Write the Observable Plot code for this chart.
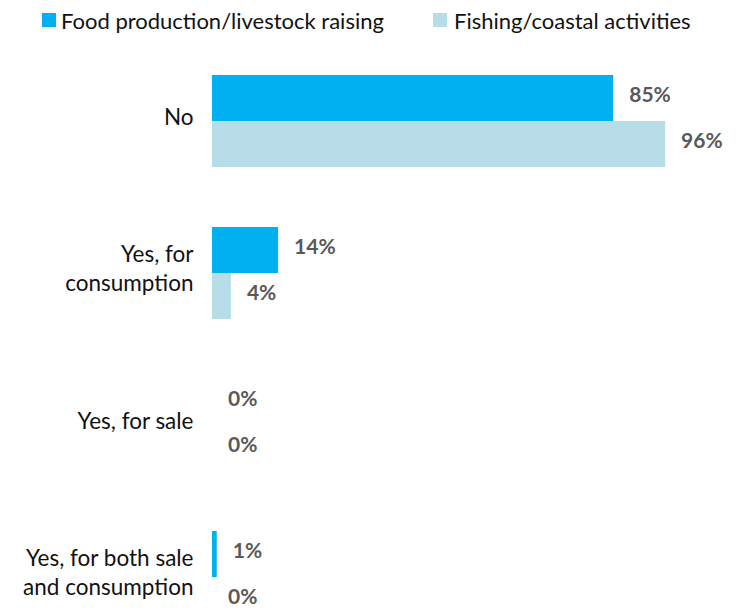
<!DOCTYPE html>
<html>
<head>
<meta charset="utf-8">
<script src="https://cdn.jsdelivr.net/npm/d3@7"></script>
<script src="https://cdn.jsdelivr.net/npm/@observablehq/plot@0.6"></script>
<style>
  html, body { margin: 0; padding: 0; background: #fff; overflow: hidden; width: 740px; height: 611px; }
  #legend { position: relative; height: 40px; width: 740px; font-family: Lato, "Open Sans", sans-serif; font-size: 22px; color: #111; }
  .item { position: absolute; top: 0; height: 40px; display: flex; align-items: center; }
  .item .sw { width: 14px; height: 14px; margin-right: 5px; margin-top: 0px; }
  #chart svg { display: block; }
</style>
</head>
<body>
<div id="legend"></div>
<div id="chart"></div>
<script>
const categories = ["No", "Yes, for consumption", "Yes, for sale", "Yes, for both sale and consumption"];
const categoryLabels = ["No", "Yes, for\nconsumption", "Yes, for sale", "Yes, for both sale\nand consumption"];
const series = ["Food production/livestock raising", "Fishing/coastal activities"];
const foodValues = [85, 14, 0, 1];
const fishingValues = [96, 4, 0, 0];
const colors = ["#00B0F0", "#B7DEE8"];

const data = [];
categories.forEach((c, i) => {
  data.push({category: c, series: series[0], value: foodValues[i]});
  data.push({category: c, series: series[1], value: fishingValues[i]});
});
const labelData = categories.map((c, i) => ({category: c, label: categoryLabels[i]}));

// legend
const legend = document.getElementById("legend");
const legendLeft = [42, 433];
series.forEach((s, i) => {
  const it = document.createElement("div");
  it.className = "item";
  it.style.left = legendLeft[i] + "px";
  const sw = document.createElement("span");
  sw.className = "sw";
  sw.style.background = colors[i];
  if (i === 1) sw.style.marginRight = "7px";
  const tx = document.createElement("span");
  tx.textContent = s;
  it.appendChild(sw);
  it.appendChild(tx);
  legend.appendChild(it);
});

const chart = Plot.plot({
  width: 740,
  height: 600,
  marginTop: 34,
  marginBottom: 16,
  marginLeft: 212,
  marginRight: 56,
  style: {fontFamily: "Lato, 'Open Sans', sans-serif", background: "#fff"},
  x: {domain: [0, 100], axis: null},
  y: {domain: series, axis: null, padding: 0},
  fy: {domain: categories, axis: null, paddingInner: 0.393, paddingOuter: 0},
  color: {domain: series, range: colors},
  marks: [
    Plot.barX(data, {x: "value", y: "series", fy: "category", fill: "series", insetTop: 0, insetBottom: 0}),
    Plot.text(data, {x: "value", y: "series", fy: "category", text: d => d.value + "%", textAnchor: "start", dx: 15.5, dy: -3, fill: "#595959", fontWeight: "bold", fontSize: 21}),
    Plot.text(labelData, {fy: "category", text: "label", frameAnchor: "left", textAnchor: "end", dx: -19, dy: -6, fill: "#111", fontSize: 22.5, lineHeight: 1.3})
  ]
});
document.getElementById("chart").appendChild(chart);
</script>
</body>
</html>
